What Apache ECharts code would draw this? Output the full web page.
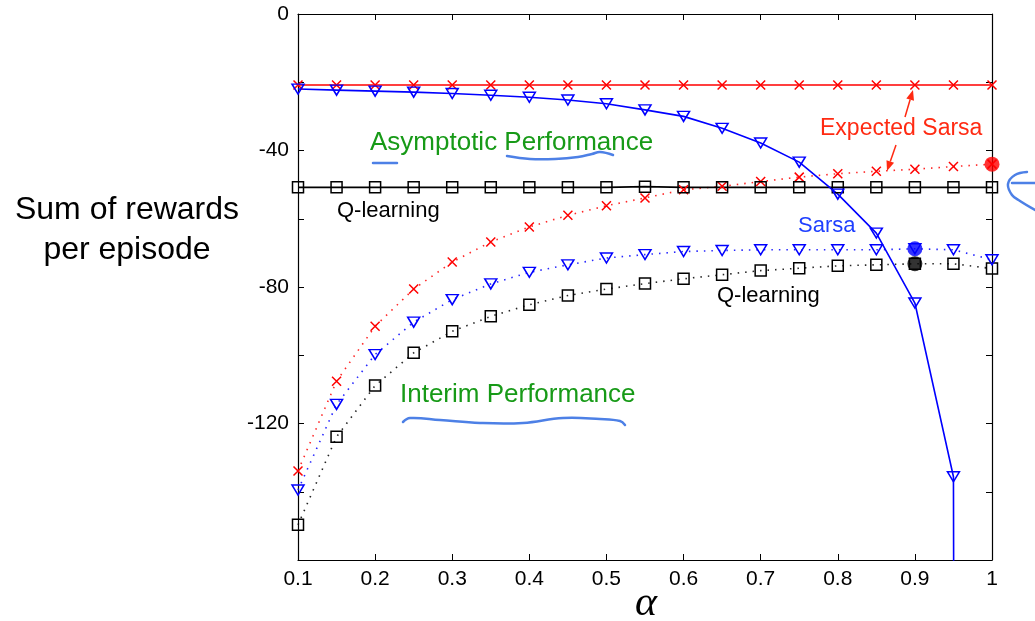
<!DOCTYPE html>
<html>
<head>
<meta charset="utf-8">
<script src="https://cdn.jsdelivr.net/npm/echarts@6/dist/echarts.min.js"></script>
<style>
  html, body { margin: 0; padding: 0; background: #fff; }
  #chart { width: 1035px; height: 621px; }
</style>
</head>
<body>
<div id="chart"></div>
<script>
// ---- data ----
const alphas = [0.1, 0.15, 0.2, 0.25, 0.3, 0.35, 0.4, 0.45, 0.5, 0.55, 0.6, 0.65, 0.7, 0.75, 0.8, 0.85, 0.9, 0.95, 1.0];

// asymptotic performance (solid lines)
const expSarsaAsym = [-20.8, -20.8, -20.8, -20.8, -20.8, -20.8, -20.8, -20.8, -20.8, -20.8, -20.8, -20.8, -20.8, -20.8, -20.8, -20.8, -20.8, -20.8, -20.8];
const sarsaAsym    = [-22.0, -22.3, -22.6, -22.9, -23.3, -23.8, -24.4, -25.2, -26.3, -28.1, -30.0, -33.5, -37.8, -43.4, -52.8, -64.2, -84.7, -135.6, -5000];
const qAsym        = [-50.8, -50.8, -50.8, -50.8, -50.8, -50.8, -50.8, -50.8, -50.8, -50.6, -50.8, -50.8, -50.8, -50.8, -50.8, -50.8, -50.8, -50.8, -50.8];

// interim performance (dotted lines)
const expSarsaInterim = [-133.9, -107.6, -91.5, -80.6, -72.7, -66.8, -62.4, -59.0, -56.2, -53.9, -51.5, -50.5, -49.1, -47.8, -46.8, -46.1, -45.5, -44.7, -44.0];
const sarsaInterim    = [-139.5, -114.4, -99.8, -90.3, -83.7, -79.1, -75.7, -73.5, -71.5, -70.5, -69.6, -69.3, -69.1, -69.1, -69.1, -69.1, -68.8, -69.1, -72.0];
const qInterim        = [-149.7, -123.9, -108.9, -99.3, -93.0, -88.6, -85.2, -82.5, -80.6, -79.0, -77.6, -76.4, -75.2, -74.5, -73.8, -73.5, -73.2, -73.2, -74.6];

// highlighted best points (filled dots)
const bestAlphas = [1.0, 0.9, 0.9];
const bestValues = [-44.0, -68.8, -73.2];
const bestColors = ['#ff0000', '#0000ff', '#000000'];

// axis ticks
const yLabelValues = [0, -40, -80, -120];

// ---- chart ----
const pairs = (ys) => alphas.map((a, i) => [a, ys[i]]);

const SYM_X = 'path://M0,0L10,10M10,0L0,10';
const SYM_TRI = 'path://M0,0L12,0L6,10Z';
const FONT = '"Liberation Sans", Arial, Helvetica, sans-serif';

function lineSeries(name, ys, color, symbol, size, dotted) {
  return {
    name, type: 'line', data: pairs(ys), xAxisIndex: 0, yAxisIndex: 0,
    symbol, symbolSize: size, showAllSymbol: true, clip: true,
    lineStyle: dotted
      ? { color, width: 1.6, type: [1.5, 6], opacity: 0.85 }
      : { color, width: 1.6, type: 'solid' },
    itemStyle: { color: 'rgba(0,0,0,0)', borderColor: color, borderWidth: 1.5 },
    emphasis: { disabled: true },
    animation: false
  };
}

const chart = echarts.init(document.getElementById('chart'), null, { renderer: 'canvas' });

function text(x, y, str, size, color, align, family) {
  return {
    type: 'text', x, y, z: 100,
    style: {
      text: str, fill: color,
      font: (family && family.italic ? 'italic ' : '') + size + 'px ' + (family ? family.name : FONT),
      align: align || 'left', verticalAlign: 'middle',
      textAlign: align || 'left', textVerticalAlign: 'middle'
    }
  };
}

function arrow(x1, y1, x2, y2, color) {
  const dx = x2 - x1, dy = y2 - y1, len = Math.hypot(dx, dy);
  const ux = dx / len, uy = dy / len, px = -uy, py = ux;
  const hl = 10, hw = 4;
  const bx = x2 - ux * hl, by = y2 - uy * hl;
  return [
    { type: 'line', z: 100, shape: { x1, y1, x2: bx, y2: by }, style: { stroke: color, lineWidth: 1.5 } },
    { type: 'polygon', z: 100, shape: { points: [[x2, y2], [bx + px * hw, by + py * hw], [bx - px * hw, by - py * hw]] }, style: { fill: color } }
  ];
}

const HAND = '#4d80e6';
function stroke(points) {
  return { type: 'polyline', z: 100, shape: { points, smooth: 0.4 }, style: { stroke: HAND, lineWidth: 2.5, lineCap: 'round', fill: null } };
}

const option = {
  backgroundColor: '#fff',
  animation: false,
  grid: { left: 298, right: 43, top: 14, bottom: 61, containLabel: false },
  xAxis: [
    {
      type: 'value', min: 0.1, max: 1, interval: 0.1, position: 'bottom',
      axisLine: { show: true, onZero: false, lineStyle: { color: '#000', width: 1.2 } },
      axisTick: { show: true, inside: true, length: 6, lineStyle: { color: '#000' } },
      axisLabel: { color: '#000', fontSize: 21, fontFamily: FONT, margin: 9,
        formatter: (v) => String(+v.toFixed(2)) },
      splitLine: { show: false }
    },
    {
      type: 'value', min: 0.1, max: 1, interval: 0.1, position: 'top',
      axisLine: { show: true, onZero: false, lineStyle: { color: '#000', width: 1.2 } },
      axisTick: { show: true, inside: true, length: 6, lineStyle: { color: '#000' } },
      axisLabel: { show: false }, splitLine: { show: false }
    }
  ],
  yAxis: [
    {
      type: 'value', min: -160, max: 0, interval: 20, position: 'left',
      axisLine: { show: true, onZero: false, lineStyle: { color: '#000', width: 1.2 } },
      axisTick: { show: true, inside: true, length: 6, lineStyle: { color: '#000' } },
      axisLabel: { color: '#000', fontSize: 21, fontFamily: FONT, margin: 9,
        formatter: (v) => yLabelValues.indexOf(v) >= 0 ? String(v) : '' },
      splitLine: { show: false }
    },
    {
      type: 'value', min: -160, max: 0, interval: 20, position: 'right',
      axisLine: { show: true, onZero: false, lineStyle: { color: '#000', width: 1.2 } },
      axisTick: { show: true, inside: true, length: 6, lineStyle: { color: '#000' } },
      axisLabel: { show: false }, splitLine: { show: false }
    }
  ],
  series: [
    lineSeries('Q-learning interim', qInterim, '#000000', 'rect', 11, true),
    lineSeries('Sarsa interim', sarsaInterim, '#0000ff', SYM_TRI, [12, 10], true),
    lineSeries('Expected Sarsa interim', expSarsaInterim, '#ff0000', SYM_X, 9, true),
    lineSeries('Q-learning asymptotic', qAsym, '#000000', 'rect', 11, false),
    lineSeries('Expected Sarsa asymptotic', expSarsaAsym, '#ff0000', SYM_X, 9, false),
    lineSeries('Sarsa asymptotic', sarsaAsym, '#0000ff', SYM_TRI, [12, 10], false),
    {
      name: 'best', type: 'scatter', symbol: 'circle', symbolSize: 15, z: 10,
      data: bestAlphas.map((a, i) => ({ value: [a, bestValues[i]], itemStyle: { color: bestColors[i] } })),
      emphasis: { disabled: true }, animation: false
    }
  ],
  graphic: [
    text(370, 143, 'Asymptotic Performance', 26, '#179a17'),
    text(337, 211, 'Q-learning', 22, '#000'),
    text(820, 129, 'Expected Sarsa', 23, '#ff2a12'),
    text(798, 226, 'Sarsa', 22, '#1f3fff'),
    text(717, 296, 'Q-learning', 22, '#000'),
    text(400, 395, 'Interim Performance', 26, '#179a17'),
    text(127, 210, 'Sum of rewards', 32, '#000', 'center'),
    text(127, 250, 'per episode', 32, '#000', 'center'),
    text(646, 604, 'α', 42, '#000', 'center', { name: '"Liberation Serif", "DejaVu Serif", serif', italic: true }),
    ...arrow(905, 117, 913, 90, '#ff2a12'),
    ...arrow(896, 145, 887, 171, '#ff2a12'),
    stroke([[373, 163], [397, 163]]),
    stroke([[507, 156], [530, 159], [555, 159], [578, 157], [592, 154], [600, 152], [613, 155]]),
    stroke([[403, 422], [410, 418], [440, 420], [480, 423], [523, 423], [563, 418], [600, 419], [620, 421], [625, 425]]),
    stroke([[1027, 172], [1015, 175], [1008, 184], [1012, 195], [1020, 201], [1035, 210]]),
    stroke([[1012, 183], [1035, 183]])
  ]
};

chart.setOption(option);
</script>
</body>
</html>
